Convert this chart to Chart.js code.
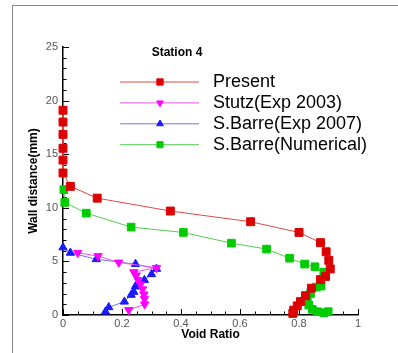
<!DOCTYPE html>
<html>
<head>
<meta charset="utf-8">
<script src="https://cdn.jsdelivr.net/npm/chart.js@4.4.1/dist/chart.umd.min.js"></script>
<style>
  body { margin: 0; background: #fff; }
  #wrap { position: relative; width: 398px; height: 353px; overflow: hidden; }
  #frame { position: absolute; left: 12px; top: 5px; width: 420px; height: 400px;
           border-left: 1px solid #8a8a8a; border-top: 1px solid #8a8a8a; }
  canvas { position: absolute; left: 0; top: 0; }
</style>
</head>
<body>
<div id="wrap">
  <div id="frame"></div>
  <canvas id="chartCanvas" width="398" height="353"></canvas>
</div>
<script>
const stationTitle = "Station 4";

const xTicks = [0, 0.2, 0.4, 0.6, 0.8, 1];
const xTickLabels = ["0", "0.2", "0.4", "0.6", "0.8", "1"];
const yTicks = [0, 5, 10, 15, 20, 25];
const yTickLabels = ["0", "5", "10", "15", "20", "25"];

// Present (simulation)
const presentVoid = [0, 0, 0, 0, 0, 0, 0.025, 0.116, 0.364, 0.636, 0.800, 0.873, 0.892, 0.901, 0.906,
                     0.890, 0.873, 0.842, 0.822, 0.805, 0.794, 0.782, 0.779];
const presentWall = [19.1, 18.0, 16.85, 15.55, 14.45, 13.25, 12.0, 10.9, 9.7, 8.7, 7.7, 6.75, 5.9, 5.1, 4.3,
                     3.6, 3.3, 2.5, 1.8, 1.25, 0.85, 0.45, 0.15];

// Stutz experiment, 2003
const stutzVoid = [0.050, 0.119, 0.189, 0.317, 0.240, 0.248, 0.254, 0.263, 0.270, 0.274, 0.276, 0.277, 0.223];
const stutzWall = [5.8, 5.5, 4.9, 4.4, 4.0, 3.7, 3.26, 2.86, 2.4, 1.93, 1.5, 1.0, 0.47];

// S.Barre experiment, 2007
const barreExpVoid = [0.0, 0.025, 0.113, 0.246, 0.317, 0.300, 0.276, 0.245, 0.240, 0.231, 0.208, 0.155, 0.144];
const barreExpWall = [6.3, 5.8, 5.2, 4.75, 4.3, 3.8, 3.26, 2.65, 2.15, 1.87, 1.24, 0.72, 0.31];

// S.Barre numerical
const barreNumVoid = [0.003, 0.006, 0.079, 0.231, 0.408, 0.571, 0.690, 0.768, 0.819, 0.854, 0.884,
                      0.875, 0.859, 0.839, 0.828, 0.833, 0.845, 0.862, 0.884, 0.899];
const barreNumWall = [11.7, 10.5, 9.5, 8.2, 7.7, 6.7, 6.15, 5.3, 4.75, 4.5, 4.0,
                      2.7, 2.6, 2.0, 1.4, 0.93, 0.53, 0.31, 0.21, 0.31];

function toPoints(xs, ys) {
    return xs.map((v, i) => ({ x: v, y: ys[i] }));
}

function series(label, xs, ys, line, mark, style, radius, rotation) {
    return {
        label,
        data: toPoints(xs, ys),
        showLine: true,
        borderColor: line,
        borderWidth: 1,
        pointStyle: style,
        pointRadius: radius,
        pointRotation: rotation,
        pointBackgroundColor: mark,
        pointBorderColor: mark,
        pointBorderWidth: 1,
        clip: false
    };
}

// tick marks point into the plot, with minor ticks between the labelled ones
const innerTicks = {
    id: "innerTicks",
    beforeDatasetsDraw(chart) {
        const { ctx, chartArea, scales: { x, y } } = chart;
        ctx.save();
        ctx.strokeStyle = "#000";
        ctx.lineWidth = 1;
        ctx.beginPath();
        for (let v = 0; v <= 25; v++) {
            const py = Math.round(y.getPixelForValue(v)) + 0.5;
            const len = v % 5 === 0 ? 6 : 3.5;
            ctx.moveTo(chartArea.left, py);
            ctx.lineTo(chartArea.left + len, py);
        }
        for (let i = 0; i <= 20; i++) {
            const px = Math.round(x.getPixelForValue(i * 0.05)) + 0.5;
            const len = i % 4 === 0 ? 6 : 3.5;
            ctx.moveTo(px, chartArea.bottom);
            ctx.lineTo(px, chartArea.bottom - len);
        }
        ctx.stroke();
        ctx.restore();
    }
};

// key in the upper part of the plot: line sample with its marker, then the name
const seriesKey = {
    id: "seriesKey",
    afterDraw(chart) {
        const { ctx, chartArea } = chart;
        const x0 = chartArea.left + 57;
        ctx.save();
        ctx.fillStyle = "#000";
        ctx.font = "bold 12px 'Liberation Sans', Arial, sans-serif";
        ctx.textAlign = "center";
        ctx.textBaseline = "middle";
        ctx.fillText(stationTitle, x0 + 57, chartArea.top + 6);

        chart.data.datasets.forEach((ds, i) => {
            const yy = chartArea.top + 35 + i * 20.9;
            ctx.strokeStyle = ds.borderColor;
            ctx.lineWidth = 1;
            ctx.beginPath();
            ctx.moveTo(x0, yy);
            ctx.lineTo(x0 + 79, yy);
            ctx.stroke();
            ctx.fillStyle = ds.pointBackgroundColor;
            ctx.strokeStyle = ds.pointBorderColor;
            Chart.helpers.drawPoint(ctx, {
                pointStyle: ds.pointStyle,
                radius: ds.pointRadius * 0.8,
                rotation: ds.pointRotation,
                borderWidth: 1
            }, x0 + 40, yy);
            ctx.fillStyle = "#000";
            ctx.font = "18px 'Liberation Sans', Arial, sans-serif";
            ctx.textAlign = "left";
            ctx.fillText(ds.label, x0 + 93, yy);
        });
        ctx.restore();
    }
};

const tickFont = { family: "'Liberation Sans', Arial, sans-serif", size: 11 };
const titleFont = { family: "'Liberation Sans', Arial, sans-serif", size: 12, weight: "bold" };

new Chart(document.getElementById("chartCanvas"), {
    type: "scatter",
    data: {
        datasets: [
            series("Present", presentVoid, presentWall, "#e04848", "#dd0000", "rect", 5.6, 0),
            series("Stutz(Exp 2003)", stutzVoid, stutzWall, "#ee55ee", "#ff00ff", "triangle", 4.8, 180),
            series("S.Barre(Exp 2007)", barreExpVoid, barreExpWall, "#7777dd", "#1a1aff", "triangle", 4.8, 0),
            series("S.Barre(Numerical)", barreNumVoid, barreNumWall, "#55cc55", "#00cc00", "rect", 5.4, 0)
        ]
    },
    options: {
        responsive: false,
        animation: false,
        layout: { padding: { top: 47, right: 40, left: 0, bottom: 0 } },
        plugins: {
            legend: { display: false },
            tooltip: { enabled: false }
        },
        scales: {
            x: {
                type: "linear",
                min: 0,
                max: 1,
                afterBuildTicks: s => { s.ticks = xTicks.map(v => ({ value: v })); },
                afterFit: s => { s.height = 38; },
                ticks: {
                    color: "#555",
                    font: tickFont,
                    padding: 2,
                    maxRotation: 0,
                    callback: (v, i) => xTickLabels[i]
                },
                grid: { drawOnChartArea: false, drawTicks: false },
                border: { display: true, color: "#000", width: 1.5 },
                title: {
                    display: true,
                    text: "Void Ratio",
                    color: "#000",
                    font: titleFont,
                    padding: { top: 0, bottom: 11 }
                }
            },
            y: {
                type: "linear",
                min: 0,
                max: 25,
                afterBuildTicks: s => { s.ticks = yTicks.map(v => ({ value: v })); },
                afterFit: s => { s.width = 63; },
                ticks: {
                    color: "#555",
                    font: tickFont,
                    padding: 5,
                    callback: (v, i) => yTickLabels[i]
                },
                grid: { drawOnChartArea: false, drawTicks: false },
                border: { display: true, color: "#000", width: 1.5 },
                title: {
                    display: true,
                    text: "Wall distance(mm)",
                    color: "#000",
                    font: titleFont,
                    padding: { top: 26, bottom: 0 }
                }
            }
        }
    },
    plugins: [innerTicks, seriesKey]
});
</script>
</body>
</html>
